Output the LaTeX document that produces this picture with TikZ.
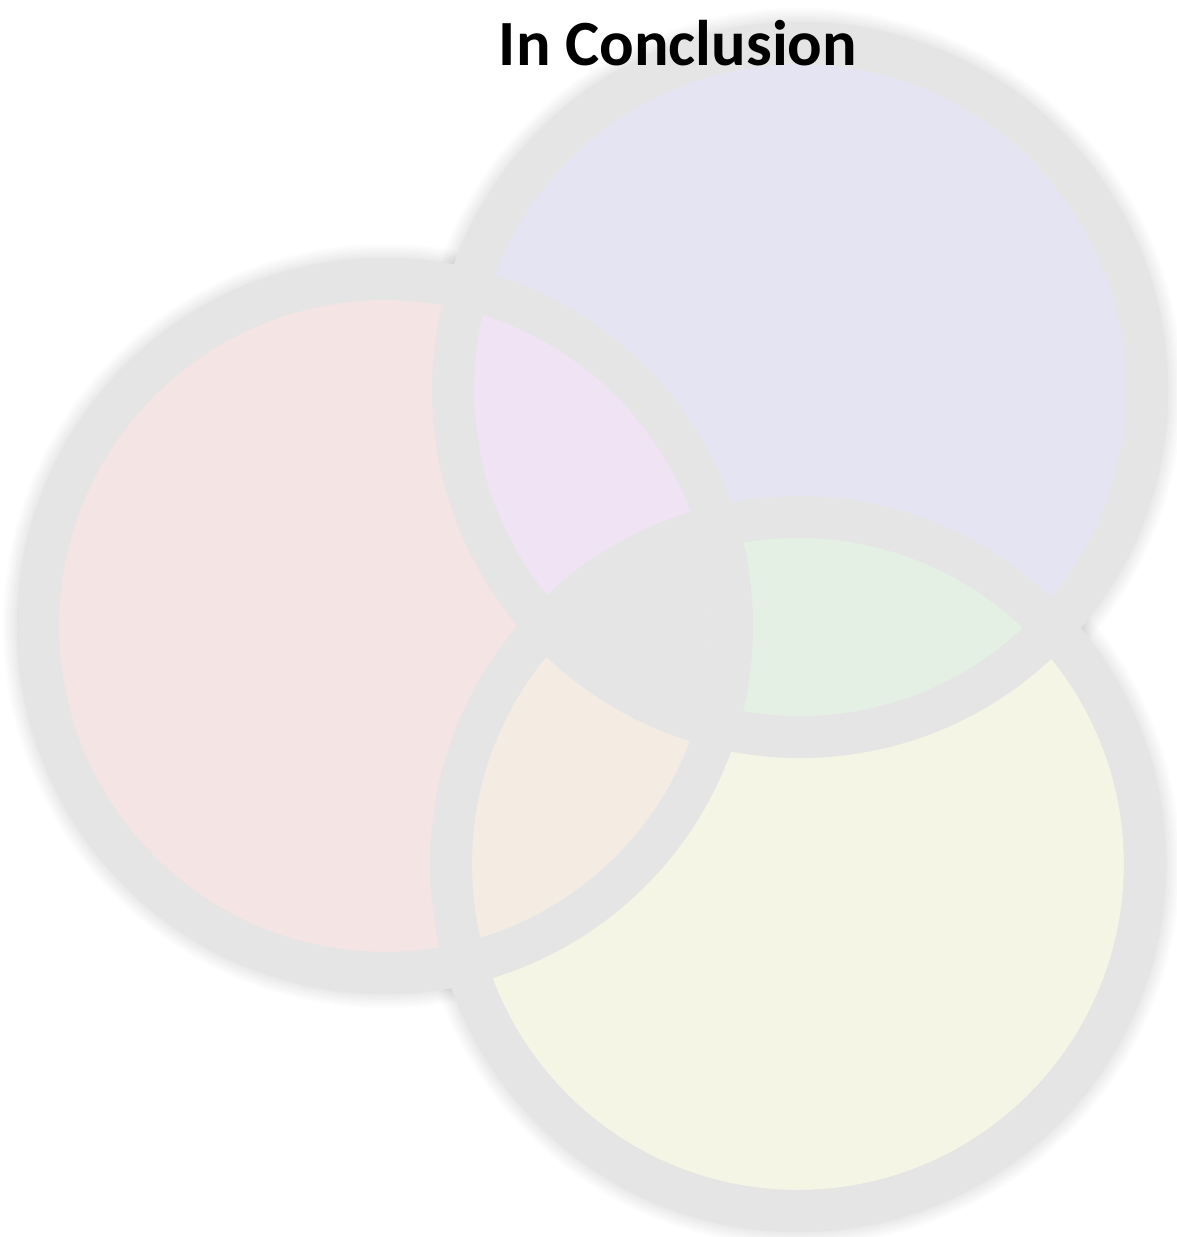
\documentclass[tikz,border=0pt]{standalone}
\usepackage{fontspec}
\setmainfont{Carlito}
\definecolor{bandgrey}{HTML}{E5E5E5}
\definecolor{pinkfill}{HTML}{F4E4E4}
\definecolor{bluefill}{HTML}{E5E4F3}
\definecolor{yellowfill}{HTML}{F4F5E4}
\definecolor{purplefill}{HTML}{F0E3F4}
\definecolor{greenfill}{HTML}{E4F0E4}
\definecolor{peachfill}{HTML}{F4ECE3}
\tikzset{
  titletext/.style={font=\fontsize{64.5}{68}\selectfont\bfseries, text=black, anchor=base, inner sep=0pt},
}
\begin{document}
\begin{tikzpicture}[x=1pt,y=-1pt]
\def\Ro{368pt}
\def\Ri{326pt}
\useasboundingbox (0,0) rectangle (1176,1237);
\fill[white] (0,0) rectangle (1176,1237);
\coordinate (cL) at (385,626);
\coordinate (cT) at (800,390);
\coordinate (cB) at (798,864);
% soft shadow
\foreach \c in {cL,cT,cB}{
  \foreach \d in {2,4,6,8,10,12,14}{
    \fill[black, opacity=0.01] (\c) circle[radius=368pt+\d pt];
  }
}
% grey disks
\foreach \c in {cL,cT,cB}{
  \fill[bandgrey] (\c) circle[radius=\Ro];
}
% single colours
\fill[pinkfill] (cL) circle[radius=\Ri];
\fill[bluefill] (cT) circle[radius=\Ri];
\fill[yellowfill] (cB) circle[radius=\Ri];
% pair colours
\begin{scope}
  \clip (cL) circle[radius=\Ri];
  \fill[purplefill] (cT) circle[radius=\Ri];
\end{scope}
\begin{scope}
  \clip (cT) circle[radius=\Ri];
  \fill[greenfill] (cB) circle[radius=\Ri];
\end{scope}
\begin{scope}
  \clip (cL) circle[radius=\Ri];
  \fill[peachfill] (cB) circle[radius=\Ri];
\end{scope}
% bands
\foreach \c in {cL,cT,cB}{
  \draw[bandgrey, line width=42pt] (\c) circle[radius=347pt];
}
% centre
\begin{scope}
  \clip (cL) circle[radius=\Ri];
  \clip (cT) circle[radius=\Ri];
  \fill[bandgrey] (cB) circle[radius=\Ri];
\end{scope}
\node[titletext] (title) at (678,65) {In Conclusion};
\end{tikzpicture}
\end{document}
